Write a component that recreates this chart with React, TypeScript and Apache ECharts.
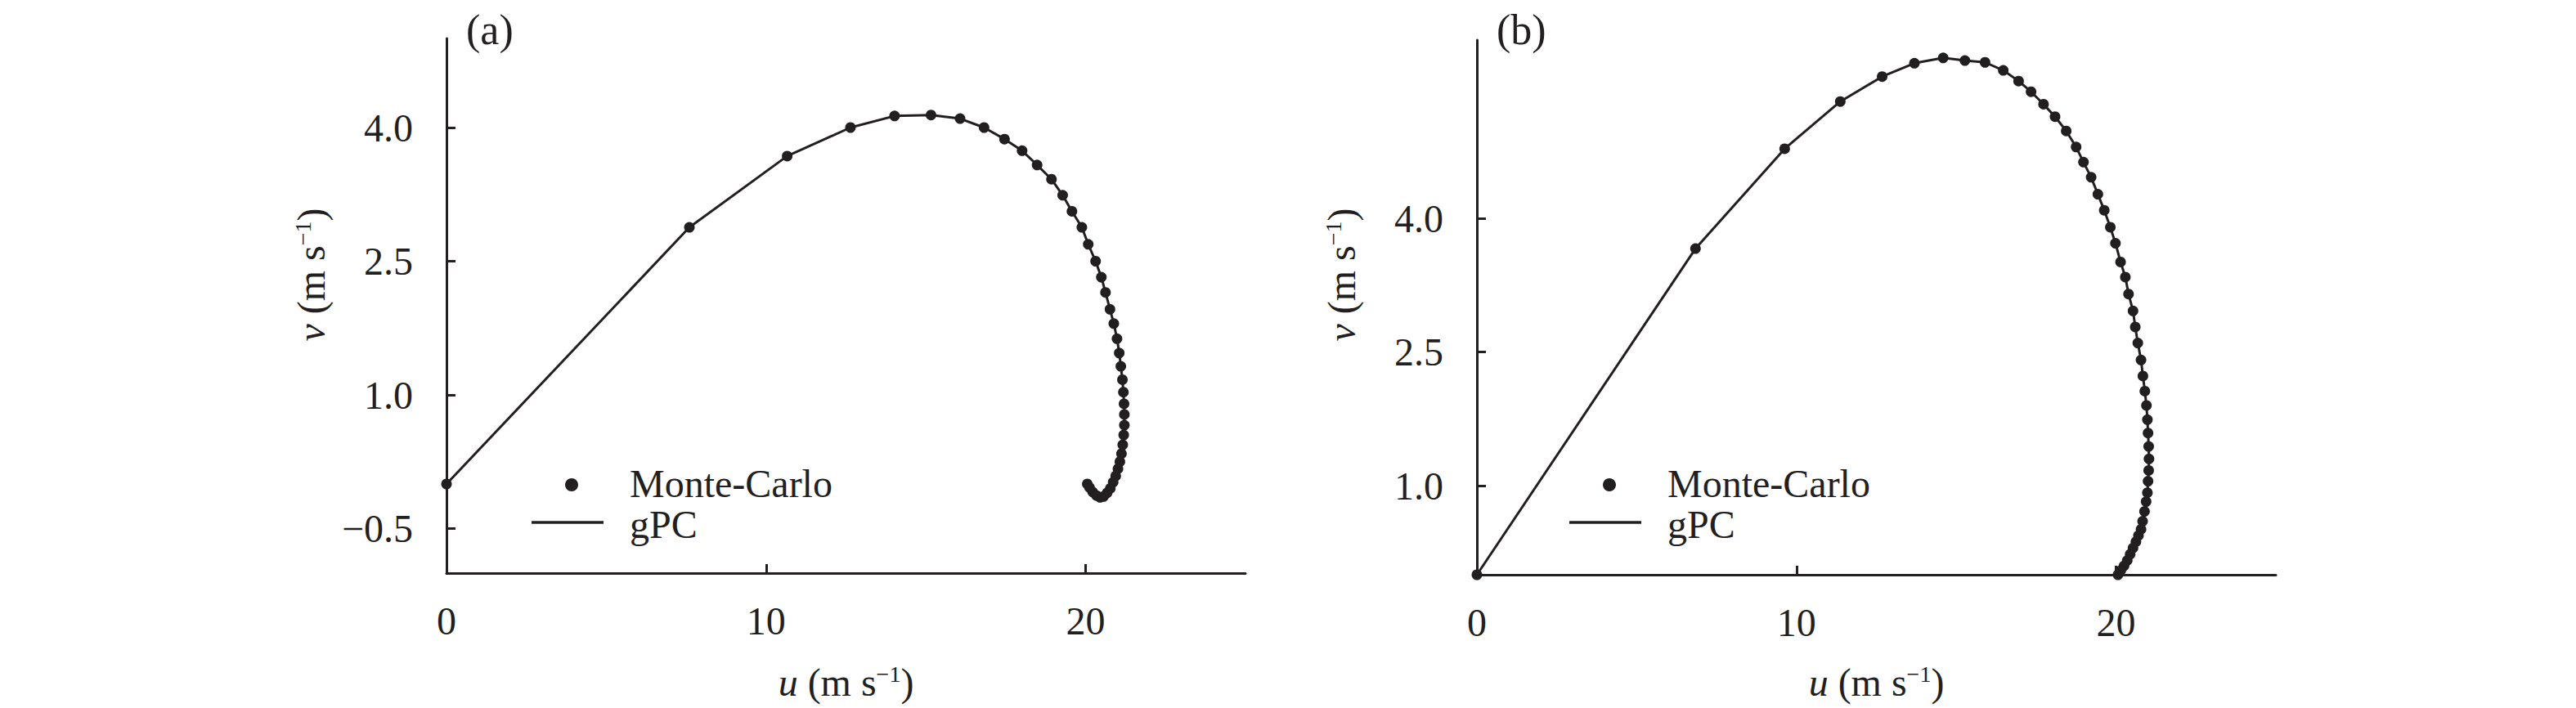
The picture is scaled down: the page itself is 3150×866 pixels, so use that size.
import React, { useEffect, useRef } from "react";
import * as echarts from "echarts";

// ---------- data ----------
const uTicks = [0, 10, 20];
const vTicksA = [-0.5, 1.0, 2.5, 4.0];
const vTicksB = [1.0, 2.5, 4.0];
const panelLabels = ["(a)", "(b)"];
const legendNames = ["Monte-Carlo", "gPC"];

// panel (a): hodograph samples (u, v)
const aU = [0, 7.6, 10.66, 12.64, 14.02, 15.16, 16.07, 16.82, 17.46, 18.01,
  18.48, 18.93, 19.28, 19.57, 19.88, 20.08, 20.31, 20.49, 20.62, 20.76,
  20.88, 20.98, 21.05, 21.1, 21.15, 21.18, 21.2, 21.21, 21.21, 21.19,
  21.16, 21.12, 21.07, 21.01, 20.94, 20.86, 20.77, 20.67, 20.56, 20.45,
  20.34, 20.22, 20.12, 20.05];
const aV = [0, 2.88, 3.68, 4.0, 4.13, 4.14, 4.10, 4.0, 3.87, 3.74,
  3.58, 3.42, 3.24, 3.06, 2.88, 2.69, 2.50, 2.32, 2.15, 1.96,
  1.80, 1.63, 1.47, 1.32, 1.17, 1.03, 0.90, 0.78, 0.66, 0.55,
  0.44, 0.34, 0.25, 0.17, 0.09, 0.02, -0.05, -0.10, -0.14, -0.15,
  -0.13, -0.09, -0.04, 0.0];

// panel (b)
const bU = [0, 6.84, 9.63, 11.37, 12.68, 13.69, 14.59, 15.27, 15.9, 16.47,
  16.95, 17.34, 17.73, 18.09, 18.44, 18.75, 18.98, 19.22, 19.43, 19.63,
  19.82, 19.98, 20.14, 20.29, 20.39, 20.53, 20.6, 20.68, 20.78, 20.84,
  20.9, 20.95, 20.98, 21.0, 21.02, 21.03, 21.02, 21.0, 20.98, 20.94,
  20.89, 20.83, 20.78, 20.7, 20.62, 20.53, 20.44, 20.35, 20.25, 20.15,
  20.06];
const bV = [0, 3.66, 4.78, 5.31, 5.59, 5.74, 5.80, 5.77, 5.75, 5.66,
  5.54, 5.42, 5.28, 5.14, 4.98, 4.80, 4.63, 4.46, 4.27, 4.09,
  3.90, 3.72, 3.51, 3.34, 3.15, 2.96, 2.78, 2.60, 2.41, 2.23,
  2.06, 1.90, 1.74, 1.59, 1.44, 1.30, 1.17, 1.05, 0.92, 0.82,
  0.71, 0.60, 0.51, 0.44, 0.37, 0.30, 0.23, 0.16, 0.10, 0.05,
  0.0];

// ---------- styling ----------
const INK = "#231f20";
const FONT = "'Liberation Serif', 'Times New Roman', Times, serif";
const FS = 48;

const zip = (u: number[], v: number[]) => u.map((x, i) => [x, v[i]]);
const fmtV = (v: number) => (v < 0 ? "\u2212" + Math.abs(v).toFixed(1) : v.toFixed(1));

const panels = [
  { grid: { left: 546, top: 47, width: 977, height: 654 }, ymin: -1, ymax: 5, vt: vTicksA, u: aU, v: aV },
  { grid: { left: 1806, top: 49, width: 977, height: 654 }, ymin: 0, ymax: 6, vt: vTicksB, u: bU, v: bV },
];

function buildOption() {
  const grid: any[] = [];
  const xAxis: any[] = [];
  const yAxis: any[] = [];
  const series: any[] = [];
  const graphic: any[] = [];

  panels.forEach((p, i) => {
    grid.push({ ...p.grid, containLabel: false });
    xAxis.push({
      type: "value",
      gridIndex: i,
      min: 0,
      max: 25,
      axisLine: { show: true, onZero: false, lineStyle: { color: INK, width: 3 } },
      axisTick: { show: true, inside: true, length: 11, customValues: uTicks, lineStyle: { color: INK, width: 3 } },
      axisLabel: {
        show: true, customValues: uTicks, margin: 34, color: INK,
        fontFamily: FONT, fontSize: FS, formatter: (val: number) => String(val),
      },
      splitLine: { show: false },
    });
    yAxis.push({
      type: "value",
      gridIndex: i,
      min: p.ymin,
      max: p.ymax,
      axisLine: { show: true, onZero: false, lineStyle: { color: INK, width: 3 } },
      axisTick: { show: true, inside: true, length: 11, customValues: p.vt, lineStyle: { color: INK, width: 3 } },
      axisLabel: {
        show: true, customValues: p.vt, margin: 41, color: INK,
        fontFamily: FONT, fontSize: FS, formatter: (val: number) => fmtV(val),
      },
      splitLine: { show: false },
    });
    const data = zip(p.u, p.v);
    series.push({
      name: legendNames[1],
      type: "line",
      xAxisIndex: i,
      yAxisIndex: i,
      data,
      showSymbol: false,
      symbol: "none",
      clip: false,
      lineStyle: { color: INK, width: 3 },
      z: 2,
    });
    series.push({
      name: legendNames[0],
      type: "scatter",
      xAxisIndex: i,
      yAxisIndex: i,
      data,
      symbol: "circle",
      symbolSize: 13,
      clip: false,
      itemStyle: { color: INK, opacity: 1 },
      z: 3,
    });

    const ax = p.grid.left;
    const midX = p.grid.left + p.grid.width / 2;
    const dx = i === 0 ? 0 : 9;
    // panel label
    graphic.push({
      type: "text", x: ax + 24, y: 36,
      style: { text: panelLabels[i], fill: INK, fontFamily: FONT, fontSize: 52, align: "left", verticalAlign: "middle" },
    });
    // x title
    graphic.push({
      type: "text", x: midX, y: 834,
      style: {
        text: "{i|u} (m s{s|\u22121})",
        fill: INK, fontFamily: FONT, fontSize: FS, align: "center", verticalAlign: "middle",
        rich: {
          i: { fontStyle: "italic", fontFamily: FONT, fontSize: FS, fill: INK },
          s: { fontFamily: FONT, fontSize: 28, fill: INK, verticalAlign: "top" },
        },
      },
    });
    // y title
    graphic.push({
      type: "text", x: ax - 166, y: 336, rotation: Math.PI / 2,
      style: {
        text: "{i|v} (m s{s|\u22121})",
        fill: INK, fontFamily: FONT, fontSize: FS, align: "center", verticalAlign: "middle",
        rich: {
          i: { fontStyle: "italic", fontFamily: FONT, fontSize: FS, fill: INK },
          s: { fontFamily: FONT, fontSize: 28, fill: INK, verticalAlign: "top" },
        },
      },
    });
    // legend
    graphic.push({
      type: "circle", shape: { cx: ax + 153 + dx, cy: 593, r: 8 }, style: { fill: INK },
    });
    graphic.push({
      type: "line", shape: { x1: ax + 104 + dx, y1: 639, x2: ax + 192 + dx, y2: 639 },
      style: { stroke: INK, lineWidth: 3.5 },
    });
    graphic.push({
      type: "text", x: ax + 224 + dx, y: 591,
      style: { text: legendNames[0], fill: INK, fontFamily: FONT, fontSize: FS, align: "left", verticalAlign: "middle" },
    });
    graphic.push({
      type: "text", x: ax + 224 + dx, y: 641,
      style: { text: legendNames[1], fill: INK, fontFamily: FONT, fontSize: FS, align: "left", verticalAlign: "middle" },
    });
  });

  return {
    animation: false,
    backgroundColor: "#ffffff",
    textStyle: { fontFamily: FONT },
    grid,
    xAxis,
    yAxis,
    series,
    graphic,
  };
}

export default function App() {
  const ref = useRef<HTMLDivElement>(null);
  useEffect(() => {
    if (!ref.current) return;
    const chart = echarts.init(ref.current, undefined, { renderer: "svg" });
    chart.setOption(buildOption() as any);
    return () => chart.dispose();
  }, []);
  return (
    <div
      ref={ref}
      style={{ position: "absolute", left: 0, top: 0, width: 3150, height: 866, background: "#fff" }}
    />
  );
}
